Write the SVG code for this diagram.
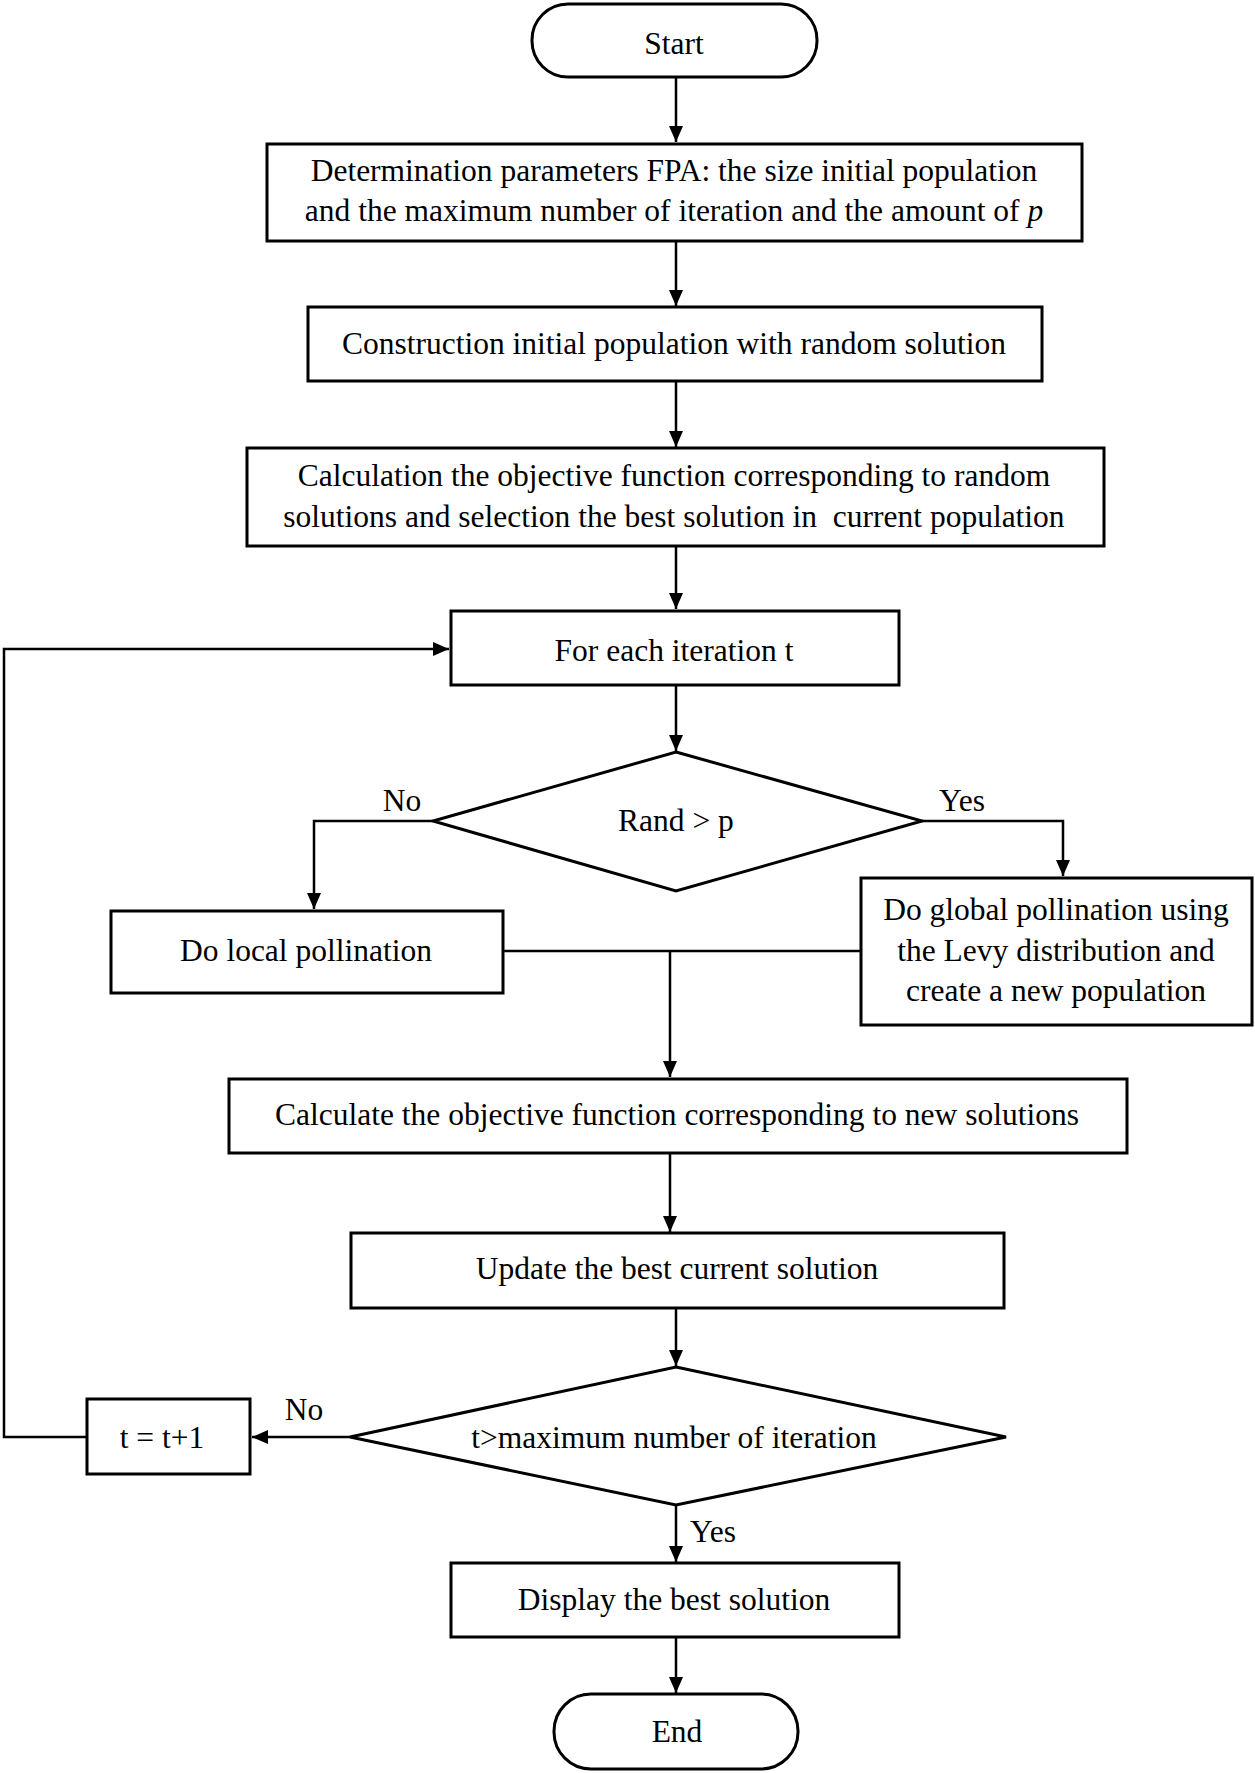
<svg xmlns="http://www.w3.org/2000/svg" width="1255" height="1773" viewBox="0 0 1255 1773">
<style>
  .box { fill: #fff; stroke: #000; stroke-width: 3; }
  .t { font-family: "Liberation Serif", "Times New Roman", serif; font-size: 31.5px; fill: #000; text-anchor: middle; }
  .lbl { font-family: "Liberation Serif", "Times New Roman", serif; font-size: 31.5px; fill: #000; text-anchor: middle; }
  .c { fill: none; stroke: #000; stroke-width: 2.5; }
</style>
<defs>
  <marker id="ah" markerUnits="userSpaceOnUse" markerWidth="16" markerHeight="14" refX="16" refY="7" orient="auto">
    <path d="M0,0 L16,7 L0,14 z" fill="#000"/>
  </marker>
</defs>
<rect width="1255" height="1773" fill="#fff"/>

<g id="connectors">
  <line class="c" x1="676" y1="78" x2="676" y2="142" marker-end="url(#ah)"/>
  <line class="c" x1="676" y1="242" x2="676" y2="306" marker-end="url(#ah)"/>
  <line class="c" x1="676" y1="381" x2="676" y2="447" marker-end="url(#ah)"/>
  <line class="c" x1="676" y1="546" x2="676" y2="609" marker-end="url(#ah)"/>
  <line class="c" x1="676" y1="685" x2="676" y2="751" marker-end="url(#ah)"/>
  <polyline class="c" points="433,821 314,821 314,909" marker-end="url(#ah)"/>
  <polyline class="c" points="922,821 1063,821 1063,876" marker-end="url(#ah)"/>
  <line class="c" x1="503" y1="951" x2="861" y2="951"/>
  <line class="c" x1="670" y1="951" x2="670" y2="1077" marker-end="url(#ah)"/>
  <line class="c" x1="670" y1="1153" x2="670" y2="1232" marker-end="url(#ah)"/>
  <line class="c" x1="676" y1="1308" x2="676" y2="1366" marker-end="url(#ah)"/>
  <line class="c" x1="350" y1="1437" x2="252" y2="1437" marker-end="url(#ah)"/>
  <polyline class="c" points="87,1437 4,1437 4,649 449,649" marker-end="url(#ah)"/>
  <line class="c" x1="676" y1="1505" x2="676" y2="1562" marker-end="url(#ah)"/>
  <line class="c" x1="676" y1="1637" x2="676" y2="1693" marker-end="url(#ah)"/>
  <text class="lbl" x="402" y="811">No</text>
  <text class="lbl" x="962" y="811">Yes</text>
  <text class="lbl" x="304" y="1420">No</text>
  <text class="lbl" x="713" y="1542">Yes</text>
</g>

<g id="start">
  <rect class="box" x="532" y="4" width="285" height="73" rx="36" ry="36"/>
  <text class="t" x="674" y="54">Start</text>
</g>
<g id="params">
  <rect class="box" x="267" y="144" width="815" height="97"/>
  <text class="t" x="674" y="181">Determination parameters FPA: the size initial population</text>
  <text class="t" x="674" y="221">and the maximum number of iteration and the amount of <tspan font-style="italic">p</tspan></text>
</g>
<g id="construct">
  <rect class="box" x="308" y="307" width="734" height="74"/>
  <text class="t" x="674" y="354">Construction initial population with random solution</text>
</g>
<g id="calcinit">
  <rect class="box" x="247" y="448" width="857" height="98"/>
  <text class="t" x="674" y="486">Calculation the objective function corresponding to random</text>
  <text class="t" x="674" y="527">solutions and selection the best solution in&#160; current population</text>
</g>
<g id="foreach">
  <rect class="box" x="451" y="611" width="448" height="74"/>
  <text class="t" x="674" y="661">For each iteration t</text>
</g>
<g id="rand">
  <polygon class="box" points="676,752 922,821 676,891 433,821"/>
  <text class="t" x="676" y="831">Rand &gt; p</text>
</g>
<g id="local">
  <rect class="box" x="111" y="911" width="392" height="82"/>
  <text class="t" x="306" y="961">Do local pollination</text>
</g>
<g id="global">
  <rect class="box" x="861" y="878" width="391" height="147"/>
  <text class="t" x="1056" y="920">Do global pollination using</text>
  <text class="t" x="1056" y="961">the Levy distribution and</text>
  <text class="t" x="1056" y="1001">create a new population</text>
</g>
<g id="calcnew">
  <rect class="box" x="229" y="1079" width="898" height="74"/>
  <text class="t" x="677" y="1125">Calculate the objective function corresponding to new solutions</text>
</g>
<g id="update">
  <rect class="box" x="351" y="1233" width="653" height="75"/>
  <text class="t" x="677" y="1279">Update the best current solution</text>
</g>
<g id="maxiter">
  <polygon class="box" points="676,1367 1006,1437 676,1505 350,1437"/>
  <text class="t" x="674" y="1448">t&gt;maximum number of iteration</text>
</g>
<g id="inc">
  <rect class="box" x="87" y="1399" width="163" height="75"/>
  <text class="t" x="162" y="1448">t = t+1</text>
</g>
<g id="display">
  <rect class="box" x="451" y="1563" width="448" height="74"/>
  <text class="t" x="674" y="1610">Display the best solution</text>
</g>
<g id="end">
  <rect class="box" x="554" y="1694" width="244" height="75" rx="37" ry="37"/>
  <text class="t" x="677" y="1742">End</text>
</g>
</svg>
